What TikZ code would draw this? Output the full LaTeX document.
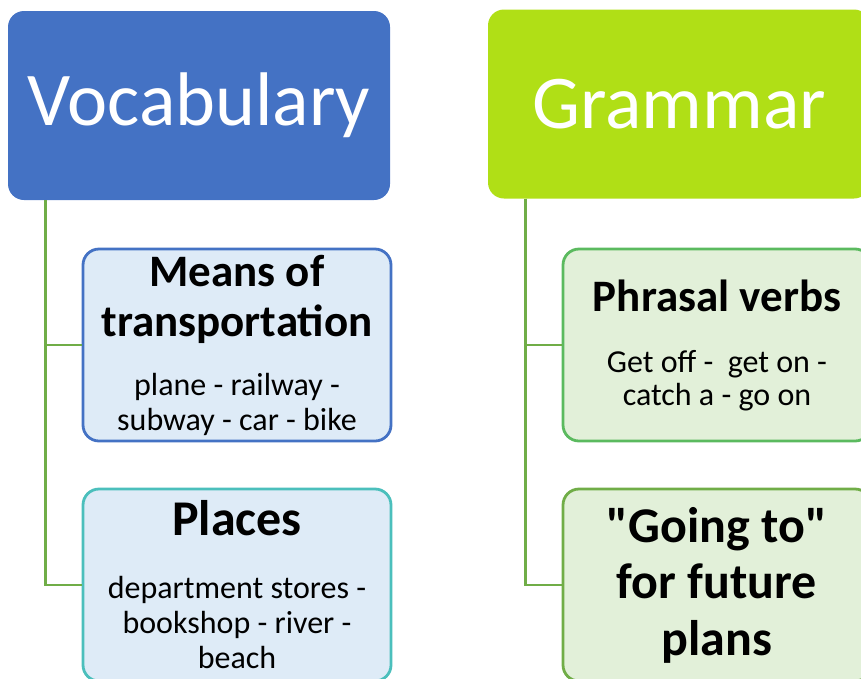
\documentclass[tikz,border=0pt]{standalone}
\usepackage{fontspec}
\setmainfont{Carlito}[Ligatures=TeXOff]
\usetikzlibrary{positioning}
\usetikzlibrary{calc}

\definecolor{vocblue}{HTML}{4472C4}
\definecolor{gramlime}{HTML}{B0DF16}
\definecolor{linkgreen}{HTML}{70AD47}
\definecolor{paleblue}{HTML}{DEEBF7}
\definecolor{palegreen}{HTML}{E2F0D9}
\definecolor{tealedge}{HTML}{4BBFBC}
\definecolor{greenedge}{HTML}{5BBA5F}

% size, baselineskip, with a fixed word space
\newcommand{\cfont}[2]{\fontsize{#1}{#2}\selectfont\spaceskip=0.226em\relax}

\begin{document}
\begin{tikzpicture}[x=1pt, y=-1pt,
  head/.style={rounded corners=16pt, minimum width=382pt, minimum height=189pt,
    inner sep=0pt, text=white, font=\cfont{76}{90}},
  leaf/.style={rounded corners=16pt, line width=2.8pt, minimum width=308pt,
    minimum height=192pt, text width=300pt, align=center, inner sep=0pt},
  link/.style={draw=linkgreen, line width=2.8pt}]

\clip (0,0) rectangle (861,678);

\pgfmathsetmacro{\TRK}{38}

\node [head, fill=vocblue] (vocab) at (199, 105.5) {Vocabulary};
\node [head, fill=gramlime] (gram) at (679, 104) {Grammar};

\node [leaf, draw=vocblue, fill=paleblue] (means) at (237, 345)
{{\cfont{45}{50}\bfseries Means of\\transportation\par}\vspace{24pt}
{\cfont{32}{35}plane - railway -\\subway - car - bike\par}};

\node [leaf, draw=tealedge, fill=paleblue] (places) at (237, 585)
{{\cfont{50}{50}\bfseries Places\par}\vspace{28pt}
{\cfont{32}{35}department stores -\\bookshop - river -\\beach\par}};

\node [leaf, draw=greenedge, fill=palegreen] (phrasal) at (717, 345)
{{\cfont{45}{50}\bfseries Phrasal verbs\par}\vspace{28pt}
{\cfont{32}{33}Get off -\ \ get on -\\catch a - go on\par}};

\node [leaf, draw=linkgreen, fill=palegreen] (going) at (717, 585)
{{\cfont{50}{56.5}\bfseries "Going to"\\for future\\plans\par}};

\draw [link] ($(vocab.south west) + (\TRK, 0)$) |- (means.west);
\draw [link] ($(vocab.south west) + (\TRK, 0)$) |- (places.west);

\draw [link] ($(gram.south west) + (\TRK, 0)$) |- (phrasal.west);
\draw [link] ($(gram.south west) + (\TRK, 0)$) |- (going.west);

\end{tikzpicture}
\end{document}
